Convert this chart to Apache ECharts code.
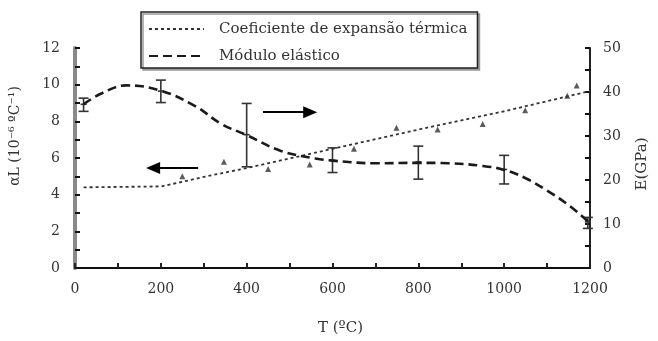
<!DOCTYPE html>
<html>
<head>
<meta charset="utf-8">
<script src="https://cdn.jsdelivr.net/npm/echarts@6/dist/echarts.min.js"></script>
<style>html,body{margin:0;padding:0;background:#fff}#c{width:658px;height:341px}</style>
</head>
<body>
<div id="c"></div>
<script>
// Thermal expansion coefficient (left axis, 10^-6 ºC^-1)
const alphaFitT = [20, 200, 250, 300, 400, 600, 800, 1000, 1200];
const alphaFit = [4.4, 4.45, 4.7, 4.97, 5.45, 6.5, 7.55, 8.55, 9.65];
const alphaPtsT = [250, 347, 450, 547, 650, 749, 845, 950, 1049, 1147, 1169];
const alphaPts = [5.0, 5.8, 5.4, 5.65, 6.5, 7.65, 7.55, 7.85, 8.6, 9.4, 9.95];
// Elastic modulus (right axis, GPa)
const eCurveT = [20, 60, 120, 200, 280, 340, 400, 480, 560, 600, 700, 800, 870, 950, 1000, 1050, 1100, 1150, 1195];
const eCurve = [37.2, 39.6, 41.5, 40.3, 36.8, 32.8, 30.2, 26.6, 24.9, 24.4, 23.8, 23.9, 23.8, 23.2, 22.3, 20.4, 17.6, 14.3, 10.6];
const eBarT = [20, 200, 400, 600, 800, 1000, 1195];
const eMean = [37.2, 40.2, 30.3, 24.5, 24.1, 22.4, 10.5];
const eLow = [35.6, 37.6, 23.0, 21.7, 20.2, 19.1, 9.0];
const eHigh = [38.6, 42.7, 37.4, 27.3, 27.7, 25.6, 11.5];
// Arrows (in left-axis data units)
const arrowLeft = [[287, 5.45], [182, 5.45]];
const arrowRight = [[438, 8.5], [548, 8.5]];
// Names
const seriesNames = ['Coeficiente de expansão térmica', 'Módulo elástico'];
const xName = 'T (ºC)';
const yLeftName = 'αL (10⁻⁶ ºC⁻¹)';
const yRightName = 'E(GPa)';

const FONT = 'DejaVu Serif';
const TXT = '#333';

const chart = echarts.init(document.getElementById('c'), null, {renderer: 'canvas'});
const zip = (a, b) => a.map((v, i) => [v, b[i]]);

chart.setOption({
  animation: false,
  backgroundColor: '#fff',
  grid: {left: 71, right: 61, top: 48, bottom: 70},
  legend: {
    left: 141, top: 12, orient: 'vertical',
    data: seriesNames,
    itemWidth: 55, itemHeight: 14, itemGap: 9,
    padding: [8, 10, 3, 7],
    backgroundColor: '#fff',
    borderColor: '#222', borderWidth: 1.5,
    shadowColor: '#999', shadowOffsetX: 2, shadowOffsetY: 2, shadowBlur: 0,
    itemStyle: {opacity: 0},
    textStyle: {fontFamily: FONT, fontSize: 15, color: TXT, lineHeight: 18, padding: [0, 0, 0, 10]}
  },
  xAxis: {
    type: 'value', min: 0, max: 1200, interval: 100,
    name: xName, nameLocation: 'middle', nameGap: 53,
    nameTextStyle: {fontFamily: FONT, fontSize: 15, color: TXT, padding: [0, 0, 0, 16]},
    axisLine: {lineStyle: {color: '#111', width: 2}},
    axisTick: {inside: true, length: 5, lineStyle: {color: '#222', width: 2}},
    axisLabel: {fontFamily: FONT, fontSize: 14, color: TXT, margin: 14,
      formatter: v => (v % 200 === 0 ? String(v) : '')},
    splitLine: {show: false}
  },
  yAxis: [{
    type: 'value', min: 0, max: 12, interval: 1, position: 'left',
    name: yLeftName, nameLocation: 'middle', nameGap: 53,
    nameTextStyle: {fontFamily: FONT, fontSize: 14, color: TXT, padding: [0, 0, 0, 44]},
    axisLine: {show: true, lineStyle: {color: '#8a8a8a', width: 4}},
    axisTick: {show: true, inside: true, length: 5, lineStyle: {color: '#111', width: 2}},
    axisLabel: {fontFamily: FONT, fontSize: 14, color: TXT, margin: 15,
      formatter: v => (v % 2 === 0 ? String(v) : '')},
    splitLine: {show: false}
  }, {
    type: 'value', min: 0, max: 50, interval: 5, position: 'right',
    name: yRightName, nameLocation: 'middle', nameGap: 45,
    nameTextStyle: {fontFamily: FONT, fontSize: 15, color: TXT, padding: [0, 12, 0, 0]},
    axisLine: {show: true, lineStyle: {color: '#222', width: 2}},
    axisTick: {show: true, inside: true, length: 5, lineStyle: {color: '#111', width: 2}},
    axisLabel: {fontFamily: FONT, fontSize: 14, color: TXT, margin: 13,
      formatter: v => (v % 10 === 0 ? String(v) : '')},
    splitLine: {show: false}
  }],
  series: [{
    name: seriesNames[0], type: 'line', yAxisIndex: 0,
    data: zip(alphaFitT, alphaFit), symbol: 'none',
    lineStyle: {color: '#333', width: 1.8, type: [3, 3]},
    itemStyle: {color: '#333'}
  }, {
    name: seriesNames[1], type: 'line', yAxisIndex: 1,
    data: zip(eCurveT, eCurve), symbol: 'none', smooth: 0.4,
    lineStyle: {color: '#1a1a1a', width: 2.6, type: [9, 5]},
    itemStyle: {color: '#1a1a1a'}
  }, {
    name: 'pts', type: 'scatter', yAxisIndex: 0,
    data: zip(alphaPtsT, alphaPts), symbol: 'triangle', symbolSize: 6,
    itemStyle: {color: '#333'}, silent: true,
    markLine: {
      silent: true, symbol: ['none', 'triangle'], symbolSize: [12, 14],
      label: {show: false},
      itemStyle: {color: '#000'},
      lineStyle: {color: '#000', width: 2, type: 'solid'},
      data: [
        [{coord: arrowLeft[0]}, {coord: arrowLeft[1]}],
        [{coord: arrowRight[0]}, {coord: arrowRight[1]}]
      ]
    }
  }, {
    name: 'err', type: 'custom', yAxisIndex: 1, silent: true,
    data: eBarT.map((t, i) => [t, eLow[i], eHigh[i], eMean[i]]),
    renderItem: (params, api) => {
      const lo = api.coord([api.value(0), api.value(1)]);
      const hi = api.coord([api.value(0), api.value(2)]);
      const c = api.coord([api.value(0), api.value(3)]);
      const w = 5;
      const st = {stroke: '#333', lineWidth: 1.6};
      return {type: 'group', children: [
        {type: 'line', shape: {x1: lo[0], y1: lo[1], x2: hi[0], y2: hi[1]}, style: st},
        {type: 'line', shape: {x1: lo[0] - w, y1: lo[1], x2: lo[0] + w, y2: lo[1]}, style: st},
        {type: 'line', shape: {x1: hi[0] - w, y1: hi[1], x2: hi[0] + w, y2: hi[1]}, style: st},
        {type: 'line', shape: {x1: c[0] - 3, y1: c[1], x2: c[0] + 3, y2: c[1]}, style: st}
      ]};
    }
  }]
});
</script>
</body>
</html>
